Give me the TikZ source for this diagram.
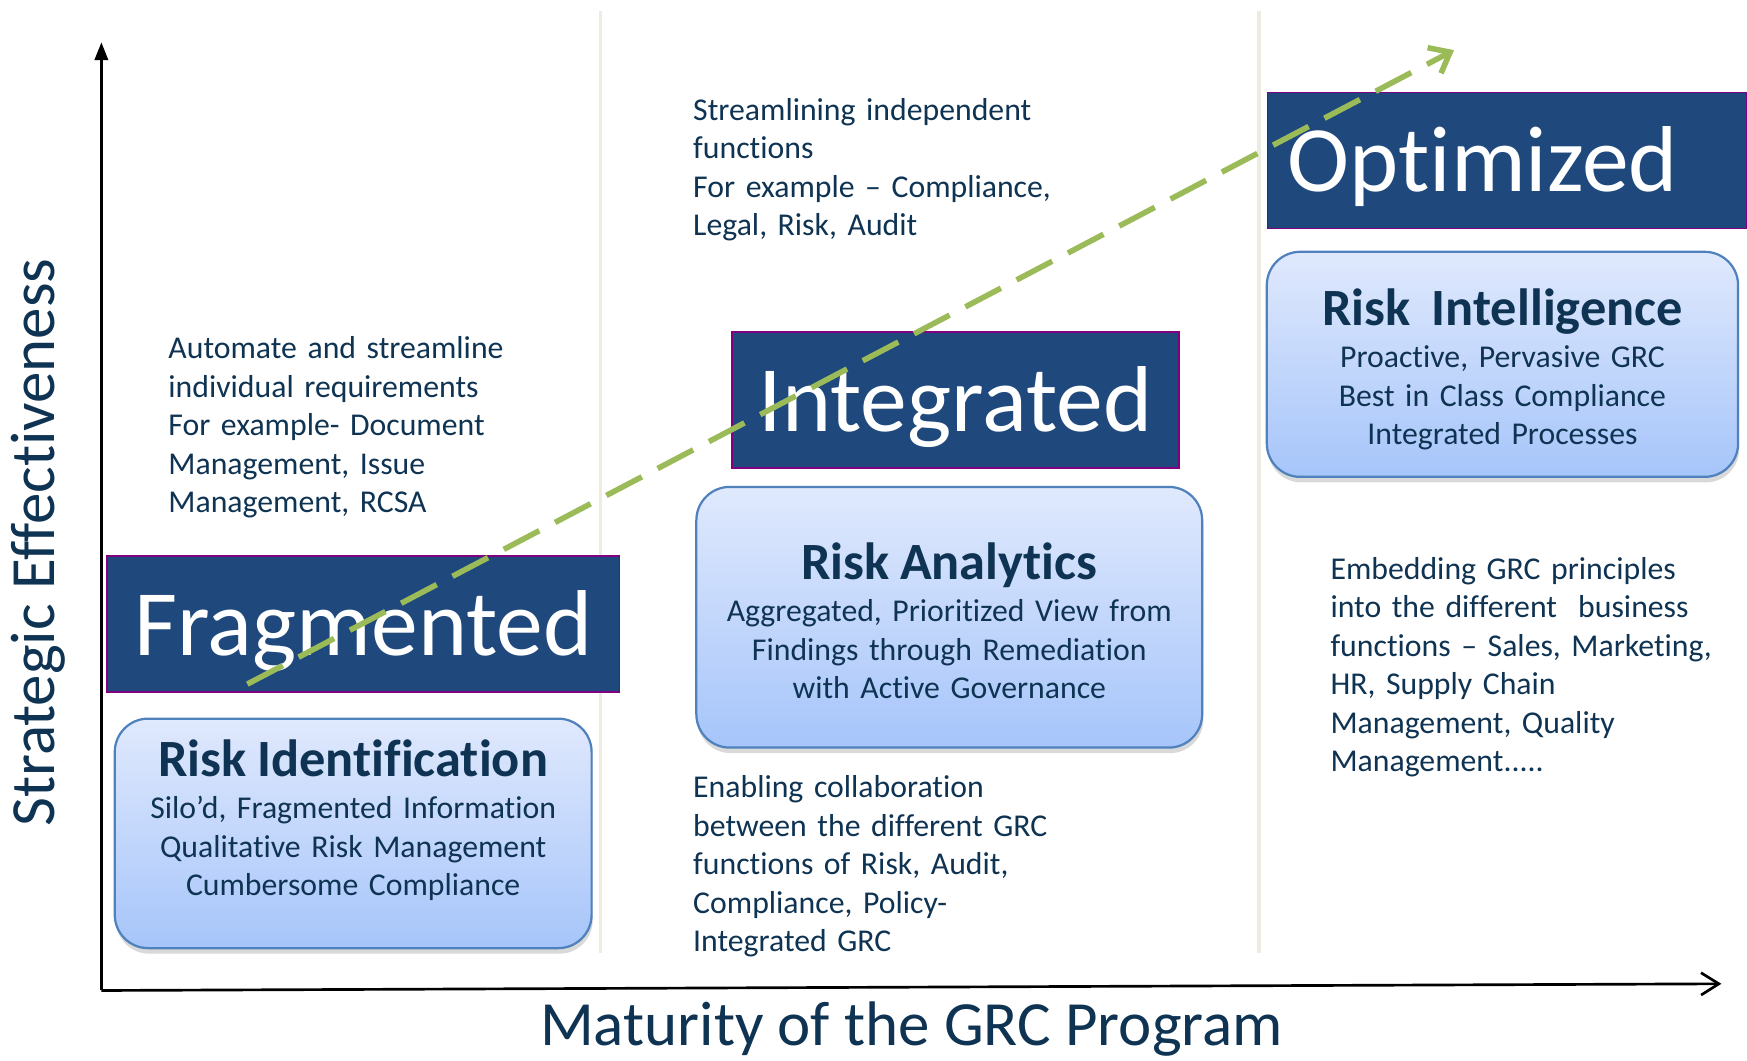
\documentclass[tikz,border=0pt]{standalone}
\usepackage{fontspec}
\setmainfont{Carlito}[Ligatures=NoCommon]
\usepackage{xcolor}
\usepackage{tikz}
\usetikzlibrary{shadows}
\usetikzlibrary{positioning}
\usetikzlibrary{arrows.meta,shapes}
\usetikzlibrary{calc}
\definecolor{navytext}{HTML}{0F3352}
\definecolor{headblue}{HTML}{1F497D}
\definecolor{headedge}{HTML}{800080}
\definecolor{boxtop}{HTML}{E0E9FD}
\definecolor{boxbottom}{HTML}{A6C5FA}
\definecolor{boxedge}{HTML}{4F81BD}
\definecolor{trendgreen}{HTML}{9BBB59}
\definecolor{divider}{HTML}{EEECE1}
\tikzstyle{stage}=[rectangle,fill=headblue,draw=headedge,line width=1.5pt,inner sep=0pt,text=white,font=\fontsize{84}{84}\selectfont,text height=89pt,text depth=33pt,minimum height=122pt]
\tikzstyle{phase}=[rectangle,rounded corners=30pt,draw=boxedge,line width=2pt,top color=boxtop,bottom color=boxbottom,inner sep=0pt,align=center,text=navytext,font=\fontsize{28.5}{34.5}\selectfont,drop shadow={shadow xshift=1pt,shadow yshift=-5pt,opacity=0.3}]
\tikzstyle{note}=[inner sep=0pt,text width=350pt,align=left,text=navytext,font=\fontsize{28.5}{34.5}\selectfont,anchor=base west]
\tikzstyle{axislabel}=[inner sep=0pt,text=navytext,font=\fontsize{56.5}{60}\selectfont,anchor=base]
\tikzstyle{axis}=[draw,line width=2.4pt]
\tikzstyle{divline}=[draw=divider,line width=3pt]
\tikzstyle{trend}=[draw=trendgreen,line width=5pt,dash pattern=on 36pt off 16pt,-{Straight Barb[length=16pt,width=26pt]}]
\newcommand{\phasetitle}[1]{{\fontsize{47}{47}\selectfont\bfseries #1}\\[3.5pt]}

\begin{document}
\begin{tikzpicture}[x=1pt,y=-1pt]

  \path[use as bounding box,clip] (0,0) rectangle (1568,952);

  % column dividers
  \foreach \x/\name in {539/divA, 1130/divB} {
    \coordinate (\name-top) at (\x,10);
    \coordinate (\name-bot) at (\x,855);
    \draw[divline] (\name-top) -- (\name-bot);
  }

  % axes
  \coordinate (origin) at (91,889);
  \coordinate (ytip) at (91,38);
  \coordinate (xtip) at (1545,883);
  \draw[axis,-{Triangle[length=16pt,width=12pt]}] (origin) -- (ytip);
  \draw[axis,-{Straight Barb[length=16pt,width=20pt]}] (origin) -- (xtip);

  \node[axislabel,rotate=90] (ylabel) at (49,487) {Strategic Effectiveness};
  \node[axislabel] (xlabel) at (818,938) {Maturity of the GRC Program};

  % maturity stages
  \foreach \x/\y/\boxw/\name/\label in {326/588/460/frag/Fragmented, 857.5/387/401/integ/Integrated}
    \node[stage,minimum width=\boxw pt,anchor=base] (\name) at (\x,\y) {\label};
  \node[stage,anchor=base west,inner xsep=18pt,text width=394pt,align=left] (optim) at (1137,172) {Optimized};

  \node[phase,text width=428pt,text height=52pt,text depth=154pt,anchor=base] (ident) at (317,697)
    {\phasetitle{Risk Identification}Silo’d, Fragmented Information\\Qualitative Risk Management\\Cumbersome Compliance};
  \node[phase,text width=454pt,text height=83pt,text depth=151pt,anchor=base] (analytics) at (852,520)
    {\phasetitle{Risk Analytics}Aggregated, Prioritized View from\\Findings through Remediation\\with Active Governance};
  \node[phase,text width=423pt,text height=66pt,text depth=136pt,anchor=base] (intel) at (1348.5,292)
    {\phasetitle{Risk\ \ Intelligence}Proactive, Pervasive GRC\\Best in Class Compliance\\Integrated Processes};

  % notes
  \foreach \x/\y/\name/\label in {
      151/322/autonote/{Automate and streamline\\individual requirements\\For example- Document\\Management, Issue\\Management, RCSA},
      622/108/streamnote/{Streamlining independent\\functions\\For example – Compliance,\\Legal, Risk, Audit},
      622/716/collabnote/{Enabling collaboration\\between the different GRC\\functions of Risk, Audit,\\Compliance, Policy-\\Integrated GRC},
      1194/520/embednote/{Embedding GRC principles\\into the different\ \ business\\functions – Sales, Marketing,\\HR, Supply Chain\\Management, Quality\\Management.....}}
    \node[note] (\name) at (\x,\y) {\label};

  % trend line
  \coordinate (trendstart) at (222,614);
  \coordinate (trendend) at (1305,45);
  \draw[trend] (trendstart) -- (trendend);

\end{tikzpicture}
\end{document}
